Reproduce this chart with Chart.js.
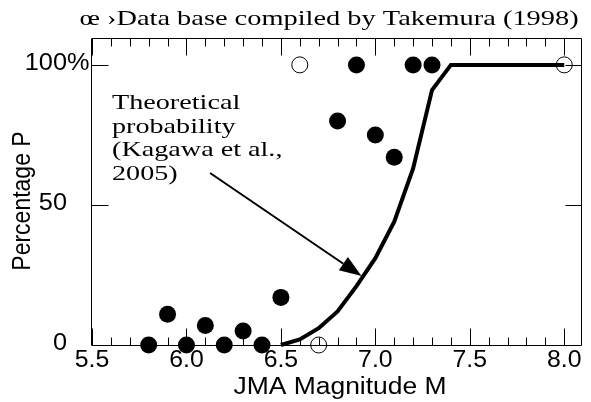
<!DOCTYPE html>
<html>
<head>
<meta charset="utf-8">
<script src="https://cdn.jsdelivr.net/npm/chart.js@4/dist/chart.umd.min.js"></script>
<style>
  html, body { margin: 0; padding: 0; background: #fff; }
</style>
</head>
<body>
<canvas id="chart" width="591" height="402"></canvas>
<script>
// observed data (filled = liquefaction observed, open = not)
const magFilled = [5.8, 5.9, 6.0, 6.1, 6.2, 6.3, 6.4, 6.5, 6.8, 6.9, 7.0, 7.1, 7.2, 7.3];
const pctFilled = [0, 11, 0, 7, 0, 5, 0, 17, 80, 100, 75, 67, 100, 100];
const magOpen = [6.6, 6.7, 8.0];
const pctOpen = [100, 0, 100];

// theoretical probability curve
const magTheory = [6.5, 6.6, 6.7, 6.8, 6.9, 7.0, 7.1, 7.2, 7.3, 7.4, 8.0];
const pctTheory = [0, 2, 6, 12, 21, 31, 44, 63, 91, 100, 100];

const xTicks = [5.5, 6.0, 6.5, 7.0, 7.5, 8.0];
const xTickLabels = ["5.5", "6.0", "6.5", "7.0", "7.5", "8.0"];
const yTicks = [0, 50, 100];
const yTickLabels = ["0", "50", "100"];
const yTickSuffix = ["", "", "%"];

const titleText = "œ ›Data base compiled by Takemura (1998)";
const xTitle = "JMA Magnitude M";
const yTitle = "Percentage P";
const noteLines = ["Theoretical", "probability", "(Kagawa et al.,", "2005)"];
const arrowFrom = { x: 6.125, y: 61.4 };
const arrowTo = { x: 6.927, y: 24.6 };

const SANS = '"Liberation Sans", Arial, sans-serif';
const SERIF = '"Liberation Serif", "Times New Roman", serif';

function toXY(xs, ys) {
  return xs.map((x, i) => ({ x: x, y: ys[i] }));
}

// text drawn a bit wider than the font, like the original figure
function stretchText(ctx, text, x, y, font, sx, align) {
  ctx.save();
  ctx.font = font;
  const w = ctx.measureText(text).width * sx;
  let x0 = x;
  if (align === "center") x0 = x - w / 2;
  if (align === "right") x0 = x - w;
  ctx.translate(x0, y);
  ctx.scale(sx, 1);
  ctx.textAlign = "left";
  ctx.fillText(text, 0, 0);
  ctx.restore();
}

const framePlugin = {
  id: "frame",
  beforeDatasetsDraw(chart) {
    const ctx = chart.ctx;
    const a = chart.chartArea;
    const xs = chart.scales.x, ys = chart.scales.y;
    const L = a.left - 0.5, R = a.right - 0.5, T = a.top + 0.5, B = a.bottom + 0.5;
    ctx.save();
    ctx.strokeStyle = "#000";
    ctx.lineWidth = 1;
    ctx.beginPath();
    ctx.moveTo(L, T); ctx.lineTo(R, T); ctx.lineTo(R, B); ctx.lineTo(L, B); ctx.closePath();
    // x ticks every 0.1, longer every 0.5, pointing inward top and bottom
    for (let i = 0; i <= 25; i++) {
      const v = xTicks[0] + i * 0.1;
      const px = Math.round(xs.getPixelForValue(v)) + 0.5;
      const len = i % 5 === 0 ? 17 : 8;
      ctx.moveTo(px, T); ctx.lineTo(px, T + len);
      ctx.moveTo(px, B); ctx.lineTo(px, B - len);
    }
    yTicks.forEach(v => {
      if (v === 0) return;
      const py = Math.round(ys.getPixelForValue(v)) + 0.5;
      ctx.moveTo(L, py); ctx.lineTo(L + 17, py);
      ctx.moveTo(R, py); ctx.lineTo(R - 16, py);
    });
    ctx.stroke();
    ctx.restore();
  },
  afterDraw(chart) {
    const ctx = chart.ctx;
    const a = chart.chartArea;
    const xs = chart.scales.x, ys = chart.scales.y;
    ctx.save();
    ctx.fillStyle = "#000";

    // tick labels
    ctx.textBaseline = "middle";
    xTicks.forEach((v, i) => {
      stretchText(ctx, xTickLabels[i], xs.getPixelForValue(v), a.bottom + 16, "23px " + SANS, 1.08, "center");
    });
    yTicks.forEach((v, i) => {
      const py = ys.getPixelForValue(v) - 1;
      stretchText(ctx, yTickLabels[i], a.left - 25, py, "23px " + SANS, 1.1, "right");
      if (yTickSuffix[i]) stretchText(ctx, yTickSuffix[i], a.left - 25, py, "23px " + SANS, 1.1, "left");
    });

    // axis titles
    ctx.textBaseline = "alphabetic";
    stretchText(ctx, xTitle, (a.left + a.right) / 2 + 3, 394, "23px " + SANS, 1.15, "center");
    ctx.save();
    ctx.translate(23, 201);
    ctx.rotate(-Math.PI / 2);
    ctx.scale(1, 1.12);
    ctx.textBaseline = "middle";
    ctx.font = "23px " + SANS;
    ctx.textAlign = "center";
    ctx.fillText(yTitle, 0, 0);
    ctx.restore();

    // title
    stretchText(ctx, titleText, 329, 25, "22px " + SERIF, 1.29, "center");

    // annotation text
    noteLines.forEach((s, i) => {
      stretchText(ctx, s, a.left + 20, 109 + i * 23.7, "22px " + SERIF, 1.28, "left");
    });

    // arrow
    const x1 = xs.getPixelForValue(arrowFrom.x), y1 = ys.getPixelForValue(arrowFrom.y);
    const x2 = xs.getPixelForValue(arrowTo.x), y2 = ys.getPixelForValue(arrowTo.y);
    const ang = Math.atan2(y2 - y1, x2 - x1);
    const headLen = 22, headW = 8;
    const bx = x2 - headLen * Math.cos(ang), by = y2 - headLen * Math.sin(ang);
    ctx.strokeStyle = "#000";
    ctx.lineWidth = 2;
    ctx.beginPath();
    ctx.moveTo(x1, y1);
    ctx.lineTo(bx, by);
    ctx.stroke();
    ctx.beginPath();
    ctx.moveTo(x2, y2);
    ctx.lineTo(bx + headW * Math.sin(ang), by - headW * Math.cos(ang));
    ctx.lineTo(bx - headW * Math.sin(ang), by + headW * Math.cos(ang));
    ctx.closePath();
    ctx.fill();
    ctx.restore();
  }
};

new Chart(document.getElementById("chart"), {
  type: "scatter",
  data: {
    datasets: [
      {
        label: "Observed",
        data: toXY(magFilled, pctFilled),
        pointRadius: 8.5,
        backgroundColor: "#000",
        borderColor: "#000",
        borderWidth: 0,
        clip: false,
        order: 0
      },
      {
        label: "Not observed",
        data: toXY(magOpen, pctOpen),
        pointRadius: 8,
        backgroundColor: "rgba(0,0,0,0)",
        borderColor: "#000",
        borderWidth: 1,
        clip: false,
        order: 0
      },
      {
        label: "Theoretical probability",
        data: toXY(magTheory, pctTheory),
        showLine: true,
        pointRadius: 0,
        borderColor: "#000",
        borderWidth: 4,
        borderCapStyle: "butt",
        borderJoinStyle: "miter",
        tension: 0,
        clip: false,
        order: 1
      }
    ]
  },
  options: {
    responsive: false,
    animation: false,
    devicePixelRatio: 1,
    layout: { padding: { left: 92, top: 38, right: 1, bottom: 57 } },
    scales: {
      x: { type: "linear", min: 5.5, max: 8.094, display: false },
      y: { type: "linear", min: 0, max: 109.6, display: false }
    },
    plugins: {
      legend: { display: false },
      tooltip: { enabled: false }
    }
  },
  plugins: [framePlugin]
});
</script>
</body>
</html>
